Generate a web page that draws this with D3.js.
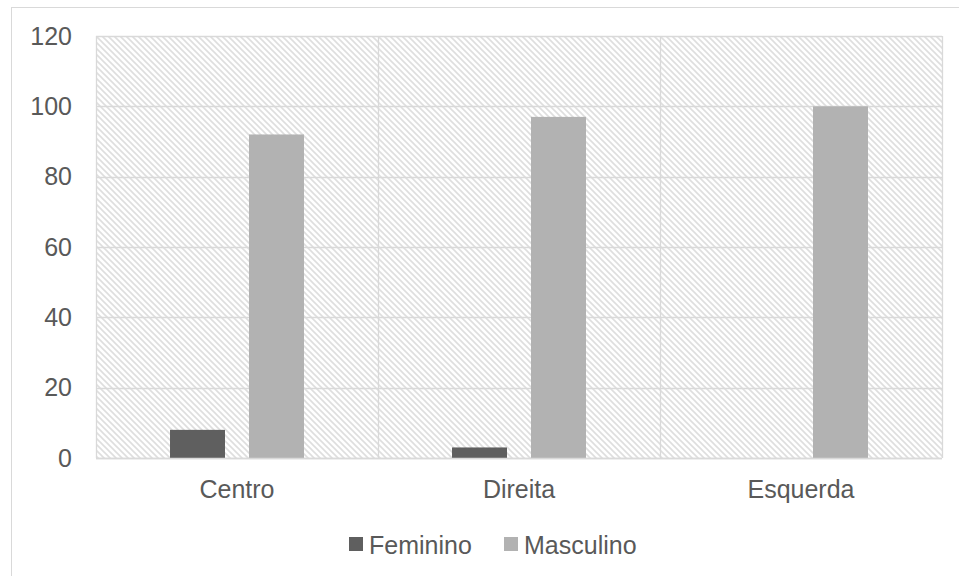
<!DOCTYPE html>
<html>
<head>
<meta charset="utf-8">
<script src="https://cdn.jsdelivr.net/npm/d3@7"></script>
<style>
  body { margin: 0; background: #fff; }
  svg { display: block; font-family: "Liberation Sans", Arial, sans-serif; }
</style>
</head>
<body>
<svg id="chart" width="959" height="576"></svg>
<script>
// Chart data
const categories = ["Centro", "Direita", "Esquerda"];
const seriesNames = ["Feminino", "Masculino"];
const feminino = [8, 3, 0];
const masculino = [92, 97, 100];
const yTicks = [0, 20, 40, 60, 80, 100, 120];
const seriesColors = ["#5f5f5f", "#b2b2b2"];

const svg = d3.select("#chart");
const margin = { left: 96, top: 36, right: 17, bottom: 118 };
const W = 959, H = 576;
const plotW = W - margin.left - margin.right;
const plotH = H - margin.top - margin.bottom;
const fontSize = "25px";
const textColor = "#595959";

// Outer frame
svg.append("rect")
  .attr("x", 11.5).attr("y", 7.5)
  .attr("width", 960).attr("height", 600)
  .attr("fill", "none").attr("stroke", "#d9d9d9").attr("stroke-width", 1);

// Diagonal hatch used as plot background
const defs = svg.append("defs");
const pat = defs.append("pattern")
  .attr("id", "hatch")
  .attr("patternUnits", "userSpaceOnUse")
  .attr("width", 6).attr("height", 6);
pat.append("rect").attr("width", 6).attr("height", 6).attr("fill", "#fff");
pat.append("path")
  .attr("d", "M0,0 L6,6 M-3,3 L3,9 M3,-3 L9,3")
  .attr("stroke", "#dedede").attr("stroke-width", 1.6);

const g = svg.append("g").attr("transform", `translate(${margin.left},${margin.top})`);

g.append("rect")
  .attr("width", plotW).attr("height", plotH)
  .attr("fill", "url(#hatch)");

const x0 = d3.scaleBand().domain(categories).range([0, plotW]).paddingInner(0).paddingOuter(0);
const x1 = d3.scaleBand().domain(seriesNames).range([0, x0.bandwidth()]).paddingInner(0.304).paddingOuter(0.937);
const y = d3.scaleLinear().domain([0, 120]).range([plotH, 0]);

// Horizontal gridlines
g.append("g").selectAll("line").data(yTicks).join("line")
  .attr("x1", 0).attr("x2", plotW)
  .attr("y1", d => Math.round(y(d)) + 0.5).attr("y2", d => Math.round(y(d)) + 0.5)
  .attr("stroke", "#d9d9d9").attr("stroke-width", 1.3);

// Vertical gridlines at category boundaries and plot edges
const vx = [0, ...categories.map(c => x0(c) + x0.bandwidth())];
g.append("g").selectAll("line").data(vx).join("line")
  .attr("x1", d => Math.round(d) + 0.5).attr("x2", d => Math.round(d) + 0.5)
  .attr("y1", 0).attr("y2", plotH)
  .attr("stroke", "#d9d9d9").attr("stroke-width", 1.3);

// Bars
const rows = categories.map((c, i) => ({ cat: c, values: [feminino[i], masculino[i]] }));
const catG = g.selectAll(".cat").data(rows).join("g")
  .attr("transform", d => `translate(${x0(d.cat)},0)`);
catG.selectAll("rect").data(d => d.values.map((v, j) => ({ name: seriesNames[j], v, j })))
  .join("rect")
  .attr("x", d => x1(d.name))
  .attr("width", x1.bandwidth())
  .attr("y", d => y(d.v))
  .attr("height", d => plotH - y(d.v))
  .attr("fill", d => seriesColors[d.j]);

// Baseline
g.append("line")
  .attr("x1", 0).attr("x2", plotW)
  .attr("y1", plotH + 0.5).attr("y2", plotH + 0.5)
  .attr("stroke", "#d9d9d9").attr("stroke-width", 1.5);

// Y axis labels
const yAxis = d3.axisLeft(y).tickValues(yTicks).tickSize(0).tickPadding(24);
const ya = g.append("g").call(yAxis);
ya.select(".domain").remove();
ya.selectAll("text").attr("fill", textColor).style("font-size", fontSize)
  .style("font-family", "'Liberation Sans', Arial, sans-serif");

// X axis labels
const xAxis = d3.axisBottom(x0).tickSize(0).tickPadding(22);
const xa = g.append("g").attr("transform", `translate(0,${plotH})`).call(xAxis);
xa.select(".domain").remove();
xa.selectAll("text").attr("fill", textColor).style("font-size", fontSize)
  .style("font-family", "'Liberation Sans', Arial, sans-serif");

// Legend
const legendItems = [
  { name: seriesNames[0], color: seriesColors[0], x: 349 },
  { name: seriesNames[1], color: seriesColors[1], x: 504 }
];
const lg = svg.append("g");
lg.selectAll("rect").data(legendItems).join("rect")
  .attr("x", d => d.x).attr("y", 537).attr("width", 14).attr("height", 14)
  .attr("fill", d => d.color);
lg.selectAll("text").data(legendItems).join("text")
  .attr("x", d => d.x + 20).attr("y", 554)
  .attr("fill", textColor).style("font-size", fontSize)
  .text(d => d.name);
</script>
</body>
</html>
